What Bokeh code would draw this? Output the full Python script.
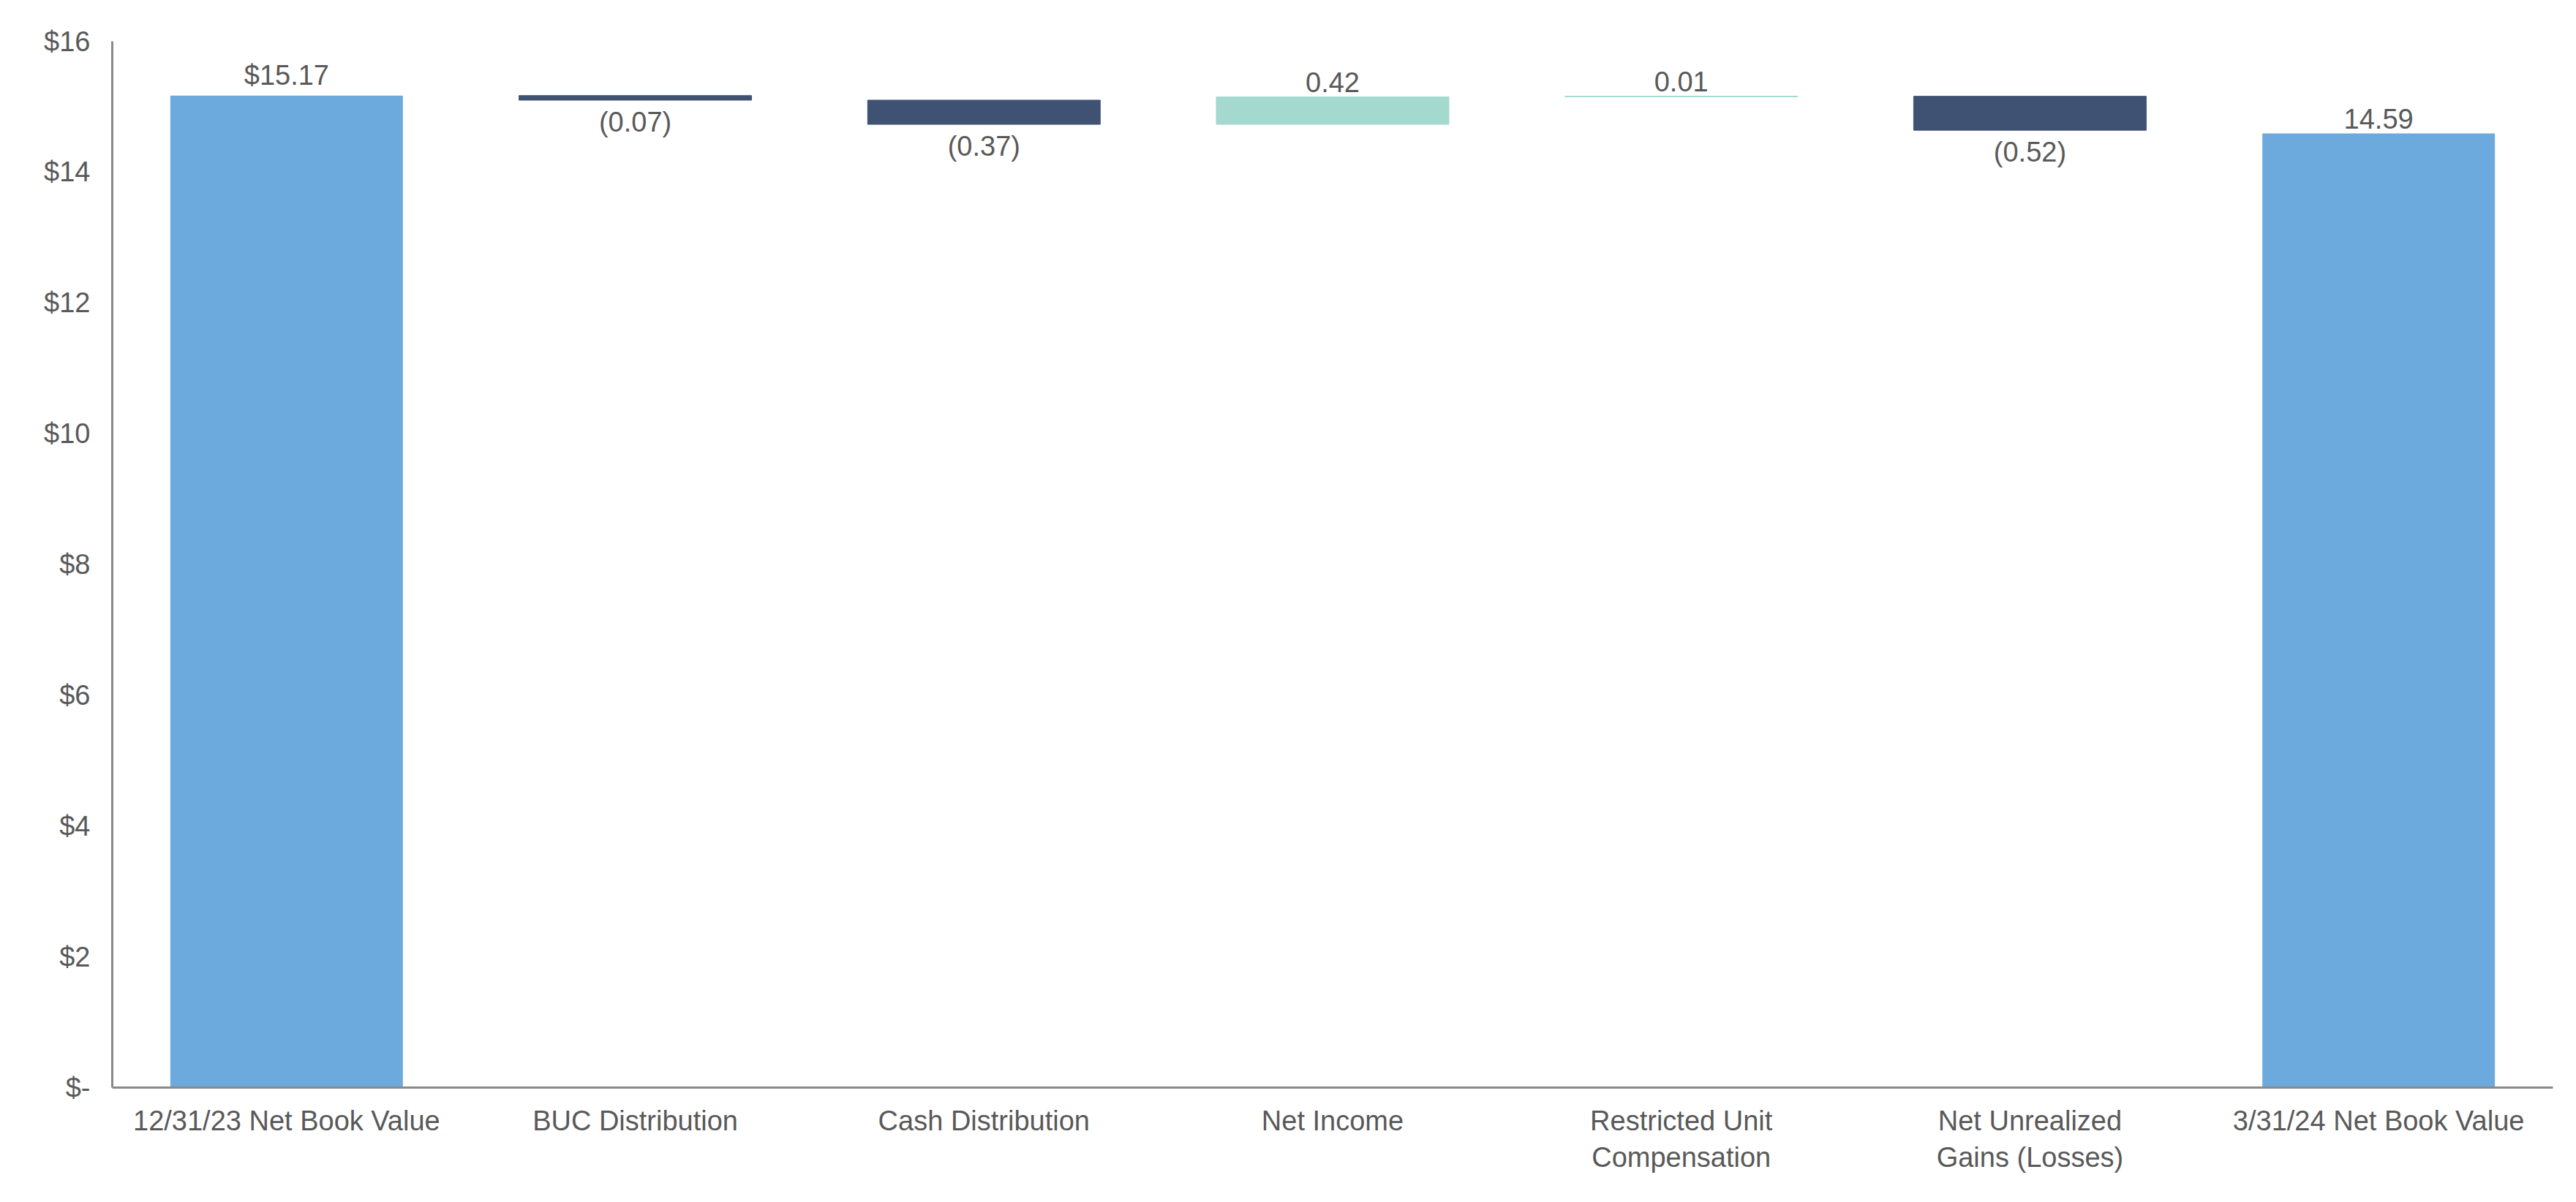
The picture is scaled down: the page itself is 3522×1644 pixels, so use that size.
from bokeh.plotting import figure
from bokeh.models import ColumnDataSource, FixedTicker
from bokeh.core.properties import value
from bokeh.embed import file_html
from bokeh.resources import INLINE

# ---- data ----
categories = ["12/31/23 Net Book Value", "BUC Distribution", "Cash Distribution",
              "Net Income", "Restricted Unit\nCompensation",
              "Net Unrealized\nGains (Losses)", "3/31/24 Net Book Value"]
amounts = [15.17, -0.07, -0.37, 0.42, 0.01, -0.52, 14.59]
kinds = ["total", "delta", "delta", "delta", "delta", "delta", "total"]
bar_labels = ["$15.17", "(0.07)", "(0.37)", "0.42", "0.01", "(0.52)", "14.59"]
y_ticks = [0, 2, 4, 6, 8, 10, 12, 14, 16]
y_tick_labels = ["$-", "$2", "$4", "$6", "$8", "$10", "$12", "$14", "$16"]

COL_TOTAL = "#6CAADD"
COL_NEG = "#3F5273"
COL_POS = "#A3D9CE"
TXT = "#595959"
FONT = "Liberation Sans"

# ---- waterfall geometry from the data ----
xs, bottoms, tops, colors, lw = [], [], [], [], []
run = 0.0
for i, (a, k) in enumerate(zip(amounts, kinds)):
    xs.append(i)
    if k == "total":
        bottoms.append(0.0)
        tops.append(a)
        colors.append(COL_TOTAL)
        lw.append(0)
        run = a
    else:
        start = run
        run = run + a
        bottoms.append(min(start, run))
        tops.append(max(start, run))
        colors.append(COL_POS if a > 0 else COL_NEG)
        lw.append(1)

src = ColumnDataSource(dict(x=xs, bottom=bottoms, top=tops, color=colors, lw=lw))

p = figure(width=3506, height=1628, output_backend="svg", toolbar_location=None,
           x_range=(-0.5, len(categories) - 0.5), y_range=(0, 16),
           min_border_left=153, min_border_right=16, min_border_top=56,
           min_border_bottom=141)

p.vbar(x="x", bottom="bottom", top="top", width=0.667, fill_color="color",
       line_color="color", line_width="lw", source=src)

# labels
up_x, up_y, up_t = [], [], []
dn_x, dn_y, dn_t = [], [], []
for i, (a, k) in enumerate(zip(amounts, kinds)):
    if k == "total" or a > 0:
        up_x.append(i); up_y.append(tops[i]); up_t.append(bar_labels[i])
    else:
        dn_x.append(i); dn_y.append(bottoms[i]); dn_t.append(bar_labels[i])

p.text(x=up_x, y=up_y, text=up_t, text_align="center", text_baseline="bottom",
       y_offset=-7, text_font=value(FONT), text_font_size="38px", text_color=TXT)
p.text(x=dn_x, y=dn_y, text=dn_t, text_align="center", text_baseline="top",
       y_offset=9, text_font=value(FONT), text_font_size="38px", text_color=TXT)

# axes
p.xaxis.ticker = FixedTicker(ticks=list(range(len(categories))))
p.xaxis.major_label_overrides = {i: c for i, c in enumerate(categories)}
p.yaxis.ticker = FixedTicker(ticks=y_ticks)
p.yaxis.major_label_overrides = {t: l for t, l in zip(y_ticks, y_tick_labels)}

for ax in (p.xaxis, p.yaxis):
    ax.axis_line_color = "#898989"
    ax.axis_line_width = 3
    ax.major_tick_line_color = None
    ax.minor_tick_line_color = None
    ax.major_label_text_font = FONT
    ax.major_label_text_font_size = "38px"
    ax.major_label_text_color = TXT
p.xaxis.major_label_standoff = 18
p.yaxis.major_label_standoff = 24

p.xgrid.grid_line_color = None
p.ygrid.grid_line_color = None
p.outline_line_color = None
p.background_fill_color = "white"
p.border_fill_color = "white"

open("out.html", "w").write(file_html(p, INLINE))
